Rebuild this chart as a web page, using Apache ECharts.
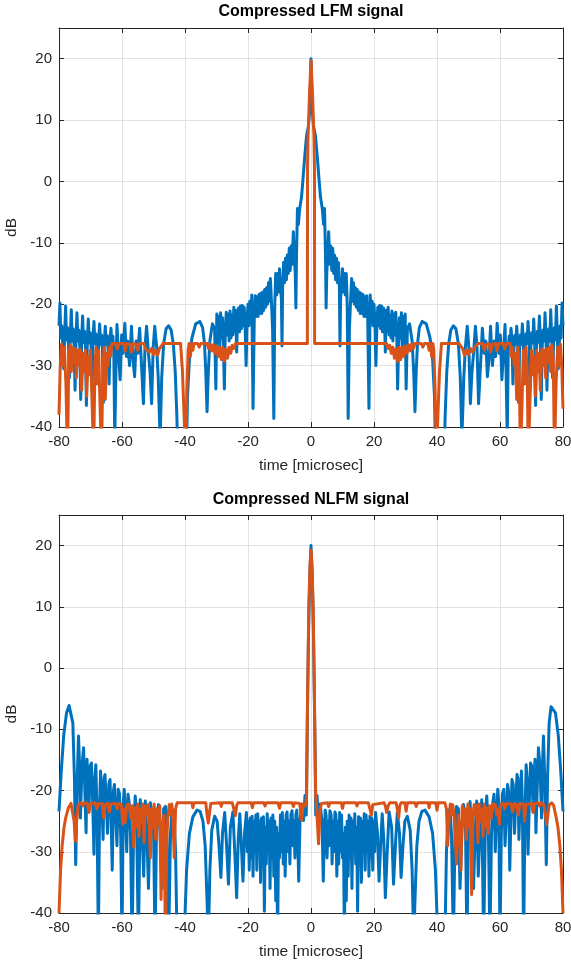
<!DOCTYPE html>
<html><head><meta charset="utf-8">
<script src="https://cdn.jsdelivr.net/npm/echarts@6/dist/echarts.min.js"></script>
<style>html,body{margin:0;padding:0;background:#fff}#c{width:571px;height:965px}</style>
</head><body><div id="c"></div>
<script>
const titles = ['Compressed LFM signal', 'Compressed NLFM signal'];
const xName = 'time [microsec]';
const yName = 'dB';
const xRange = [-80, 80, 20];
const yRange = [-40, 25, 10];

// Top chart: blue trace (time µs, dB)
const lfmBlue = [
[-80,-23.5],[-79.7,-19.8],[-79.4,-25.5],[-79.1,-23.5],[-78.8,-26.5],[-78.5,-30.5],[-78.2,-25],
[-77.9,-20.3],[-77.6,-25.8],[-77.3,-23.8],[-77.0,-26.5],[-76.7,-32],[-76.4,-25.2],
[-76.1,-20.9],[-75.8,-26],[-75.5,-24],[-75.2,-26.8],[-74.9,-34],[-74.6,-25.4],
[-74.3,-21.4],[-74.0,-26],[-73.7,-24.2],[-73.4,-27],[-73.1,-35.5],[-72.8,-25.5],
[-72.5,-21.9],[-72.2,-26.2],[-71.9,-24.4],[-71.6,-27],[-71.3,-36.5],[-71.0,-25.6],
[-70.7,-22.4],[-70.4,-26.3],[-70.1,-24.6],[-69.8,-27],[-69.5,-34],[-69.2,-25.7],
[-68.9,-22.8],[-68.6,-26.4],[-68.3,-24.8],[-68.0,-27],[-67.7,-32],[-67.4,-25.8],
[-67.1,-23.2],[-66.8,-26.5],[-66.5,-25],[-66.2,-27.5],[-65.9,-36],[-65.6,-25.8],
[-65.3,-23.6],[-65.0,-26.5],[-64.7,-25.1],[-64.4,-27.5],[-64.1,-33],[-63.8,-25.9],
[-63.5,-23.9],[-63.2,-26.5],[-62.9,-25.2],[-62.6,-28],[-62.3,-42],
[-61.9,-30],[-61.6,-23.3],[-61.1,-28],[-60.6,-32.3],[-60.1,-25],[-59.7,-28],[-59.1,-23.1],[-58.6,-28.5],[-58.2,-26],[-57.6,-30],[-57.0,-23.6],[-56.5,-29],[-56.0,-31.8],[-55.5,-26],[-55.0,-28],[-54.4,-23.9],[-53.8,-30],[-53.2,-36.2],[-52.7,-27],[-52.2,-23.6],[-51.6,-28],[-51.1,-31],[-50.6,-36.2],[-50.1,-27],[-49.6,-23.6],[-49.0,-27],[-48.5,-32],[-47.9,-42],
[-47.4,-32],[-46.8,-26.5],[-46.0,-24],[-45.2,-23.5],[-44.4,-24.2],[-43.7,-26.5],[-43.1,-31],[-42.6,-38],[-42.2,-46],[-39.6,-46],[-39.2,-35],[-38.6,-29],[-37.8,-25.5],[-36.6,-23.2],[-35.3,-22.8],[-34.4,-23.8],[-33.8,-26.5],[-33.4,-31],[-33.0,-37.5],[-32.6,-31],[-32.1,-26],[-31.3,-23.2],[-30.6,-24],[-30.2,-33.8],
[-29.9,-21.6],[-29.6,-26],[-29.3,-22],[-29.0,-27],[-28.7,-21.4],[-28.4,-25.5],[-28.1,-22.2],[-27.8,-27],[-27.5,-33.8],[-27.2,-24],[-26.9,-21.3],[-26.6,-25],[-26.3,-21.6],[-26.0,-26],[-25.7,-21.1],[-25.4,-25.5],[-25.1,-21.8],[-24.8,-25],[-24.5,-20.5],[-24.2,-24.5],[-23.9,-21],[-23.6,-27.8],[-23.3,-22],[-23.0,-20.6],[-22.7,-24.5],[-22.4,-20.3],[-22.1,-24],[-21.8,-20.2],[-21.5,-23.5],[-21.2,-20.5],[-20.9,-24],[-20.6,-30],[-20.3,-23],[-20.0,-20],[-19.7,-23.5],[-19.4,-19.5],[-19.1,-22.5],[-18.8,-18.5],[-18.4,-37],[-18.0,-22],[-17.7,-18.6],[-17.4,-22],[-17.1,-18.8],[-16.8,-22],[-16.5,-18.4],[-16.2,-21.5],[-15.9,-18.2],[-15.6,-21.5],[-15.3,-18.0],[-15.0,-21],[-14.7,-17.6],[-14.4,-20.5],[-14.1,-17.3],[-13.8,-20],[-13.5,-16.5],[-13.2,-19.5],[-12.9,-15.8],[-12.6,-19],[-12.2,-24],[-11.8,-38.6],[-11.5,-20],[-11.2,-15],[-10.9,-18.5],[-10.6,-15],[-10.3,-18],[-10.0,-14.2],[-9.7,-17.5],[-9.4,-19],[-9.2,-26.8],[-9.0,-17],[-8.7,-13.2],[-8.4,-16.5],[-8.1,-12.5],[-7.8,-16],[-7.5,-12],[-7.2,-15],[-6.9,-10.9],[-6.6,-14.5],[-6.3,-10.5],[-6.0,-13.5],[-5.6,-8.2],[-5.3,-12],[-5.0,-15],[-4.8,-20.6],[-4.6,-12],[-4.3,-4.4],[-4.0,-7],[-3.6,-4.5],[-3.0,-2.5],[-2.6,0],[-2.0,4],[-1.4,7.5],[-0.8,9],[-0.35,12],[0,20],
[0.35,12],[0.8,9],[1.4,7.5],[2.0,4],[2.6,0],[3.0,-2.5],[3.6,-4.5],[4.0,-7],[4.3,-4.4],[4.6,-12],[4.8,-20.6],[5.0,-15],[5.3,-12],[5.6,-8.2],[6.0,-13.5],[6.3,-10.5],[6.6,-14.5],[6.9,-10.9],[7.2,-15],[7.5,-12],[7.8,-16],[8.1,-12.5],[8.4,-16.5],[8.7,-13.2],[9.0,-17],[9.2,-26.8],[9.4,-19],[9.7,-17.5],[10.0,-14.2],[10.3,-18],[10.6,-15],[10.9,-18.5],[11.2,-15],[11.5,-20],[11.8,-38.6],[12.2,-24],[12.6,-19],[12.9,-15.8],[13.2,-19.5],[13.5,-16.5],[13.8,-20],[14.1,-17.3],[14.4,-20.5],[14.7,-17.6],[15.0,-21],[15.3,-18.0],[15.6,-21.5],[15.9,-18.2],[16.2,-21.5],[16.5,-18.4],[16.8,-22],[17.1,-18.8],[17.4,-22],[17.7,-18.6],[18.0,-22],[18.4,-37],[18.8,-18.5],[19.1,-22.5],[19.4,-19.5],[19.7,-23.5],[20.0,-20],[20.3,-23],[20.6,-30],[20.9,-24],[21.2,-20.5],[21.5,-23.5],[21.8,-20.2],[22.1,-24],[22.4,-20.3],[22.7,-24.5],[23.0,-20.6],[23.3,-22],[23.6,-27.8],[23.9,-21],[24.2,-24.5],[24.5,-20.5],[24.8,-25],[25.1,-21.8],[25.4,-25.5],[25.7,-21.1],[26.0,-26],[26.3,-21.6],[26.6,-25],[26.9,-21.3],[27.2,-24],[27.5,-33.8],[27.8,-27],[28.1,-22.2],[28.4,-25.5],[28.7,-21.4],[29.0,-27],[29.3,-22],[29.6,-26],[29.9,-21.6],
[30.2,-33.8],[30.6,-24],[31.3,-23.2],[32.1,-26],[32.6,-31],[33.0,-37.5],[33.4,-31],[33.8,-26.5],[34.4,-23.8],[35.3,-22.8],[36.6,-23.2],[37.8,-25.5],[38.6,-29],[39.2,-35],[39.6,-46],[42.2,-46],[42.6,-38],[43.1,-31],[43.7,-26.5],[44.4,-24.2],[45.2,-23.5],[46.0,-24],[46.8,-26.5],[47.4,-32],
[47.9,-42],[48.5,-32],[49.0,-27],[49.6,-23.6],[50.1,-27],[50.6,-36.2],[51.1,-31],[51.6,-28],[52.2,-23.6],[52.7,-27],[53.2,-36.2],[53.8,-30],[54.4,-23.9],[55.0,-28],[55.5,-26],[56.0,-31.8],[56.5,-29],[57.0,-23.6],[57.6,-30],[58.2,-26],[58.6,-28.5],[59.1,-23.1],[59.7,-28],[60.1,-25],[60.6,-32.3],[61.1,-28],[61.6,-23.3],[61.9,-30],
[62.3,-42],[62.6,-28],[62.9,-25.2],[63.2,-26.5],[63.5,-23.9],
[63.8,-25.9],[64.1,-33],[64.4,-27.5],[64.7,-25.1],[65.0,-26.5],[65.3,-23.6],
[65.6,-25.8],[65.9,-36],[66.2,-27.5],[66.5,-25],[66.8,-26.5],[67.1,-23.2],
[67.4,-25.8],[67.7,-32],[68.0,-27],[68.3,-24.8],[68.6,-26.4],[68.9,-22.8],
[69.2,-25.7],[69.5,-34],[69.8,-27],[70.1,-24.6],[70.4,-26.3],[70.7,-22.4],
[71.0,-25.6],[71.3,-36.5],[71.6,-27],[71.9,-24.4],[72.2,-26.2],[72.5,-21.9],
[72.8,-25.5],[73.1,-35.5],[73.4,-27],[73.7,-24.2],[74.0,-26],[74.3,-21.4],
[74.6,-25.4],[74.9,-34],[75.2,-26.8],[75.5,-24],[75.8,-26],[76.1,-20.9],
[76.4,-25.2],[76.7,-32],[77.0,-26.5],[77.3,-23.8],[77.6,-25.8],[77.9,-20.3],
[78.2,-25],[78.5,-30.5],[78.8,-26.5],[79.1,-23.5],[79.4,-25.5],[79.7,-19.8],[80,-23.5]
];

// Top chart: orange trace
const lfmOrange = [
[-80,-38],[-79.6,-30],[-79.2,-26.5],[-78.8,-30],[-78.3,-27],[-77.8,-33],[-77.3,-45],[-76.9,-29],[-76.5,-26.6],[-76.1,-31],[-75.7,-27],[-75.3,-29.5],[-74.9,-27.2],[-74.5,-32],[-74.1,-27.5],[-73.7,-30],[-73.3,-27.3],[-72.8,-34],[-72.4,-28],[-72.0,-31],[-71.6,-27.5],[-71.2,-35],[-70.8,-28.5],[-70.4,-31.5],[-70.0,-27.5],[-69.5,-36],[-69.0,-45],[-68.6,-30],[-68.2,-27],[-67.8,-33],[-67.4,-27.5],[-67.0,-36],[-66.5,-45],[-66.1,-31],[-65.7,-27],[-65.3,-35.5],[-64.9,-28],[-64.5,-30],[-64.0,-27],[-63.6,-28.5],[-63.2,-26.4],
[-62.0,-26.4],[-61.5,-27.3],[-61.0,-26.4],[-59.5,-26.4],[-59.0,-27.6],[-58.6,-26.4],[-57.5,-26.5],[-57.0,-27.8],[-56.5,-26.4],[-55.5,-26.6],[-55.0,-27.5],[-54.5,-26.4],[-53.0,-26.4],[-52.5,-27.3],[-52.0,-27.0],[-51.3,-27.8],[-50.6,-27.2],[-50.0,-28.2],[-49.3,-27.5],[-48.7,-28.3],[-48.1,-27.2],[-47.5,-26.8],[-47.0,-26.4],[-41.4,-26.4],[-40.8,-31],[-40.3,-38],[-39.8,-45],[-39.4,-34],[-39.0,-27.5],[-38.7,-26.4],[-38.3,-28.5],[-37.9,-26.4],[-37.5,-27.5],[-37.1,-26.4],[-36.0,-26.4],[-35.5,-27],[-35.0,-26.4],[-33.0,-26.4],
[-32.5,-27.2],[-32.0,-26.5],[-31.5,-27.6],[-31.0,-26.6],[-30.5,-28],[-30.0,-26.8],[-29.5,-28.5],[-29.0,-27],[-28.5,-29],[-28.0,-27],[-27.5,-29.3],[-27.0,-27.3],[-26.5,-28.8],[-26.0,-27],[-25.5,-28],[-25.0,-26.7],[-24.5,-27.2],[-24.0,-26.4],[-1.15,-26.4],[-1.1,2],[-0.95,7],[-0.5,14],[0,19.7],
[0.5,14],[0.95,7],[1.1,2],[1.15,-26.4],[24.0,-26.4],[24.5,-27.2],[25.0,-26.7],[25.5,-28],[26.0,-27],[26.5,-28.8],[27.0,-27.3],[27.5,-29.3],[28.0,-27],[28.5,-29],[29.0,-27],[29.5,-28.5],[30.0,-26.8],[30.5,-28],[31.0,-26.6],[31.5,-27.6],[32.0,-26.5],[32.5,-27.2],
[33.0,-26.4],[35.0,-26.4],[35.5,-27],[36.0,-26.4],[37.1,-26.4],[37.5,-27.5],[37.9,-26.4],[38.3,-28.5],[38.7,-26.4],[39.0,-27.5],[39.4,-34],[39.8,-45],[40.3,-38],[40.8,-31],[41.4,-26.4],[47.0,-26.4],[47.5,-26.8],[48.1,-27.2],[48.7,-28.3],[49.3,-27.5],[50.0,-28.2],[50.6,-27.2],[51.3,-27.8],[52.0,-27.0],[52.5,-27.3],[53.0,-26.4],[54.5,-26.4],[55.0,-27.5],[55.5,-26.6],[56.5,-26.4],[57.0,-27.8],[57.5,-26.5],[58.6,-26.4],[59.0,-27.6],[59.5,-26.4],[61.0,-26.4],[61.5,-27.3],[62.0,-26.4],
[63.2,-26.4],[63.6,-28.5],[64.0,-27],[64.5,-30],[64.9,-28],[65.3,-35.5],[65.7,-27],[66.1,-31],[66.5,-45],[67.0,-36],[67.4,-27.5],[67.8,-33],[68.2,-27],[68.6,-30],[69.0,-45],[69.5,-36],[70.0,-27.5],[70.4,-31.5],[70.8,-28.5],[71.2,-35],[71.6,-27.5],[72.0,-31],[72.4,-28],[72.8,-34],[73.3,-27.3],[73.7,-30],[74.1,-27.5],[74.5,-32],[74.9,-27.2],[75.3,-29.5],[75.7,-27],[76.1,-31],[76.5,-26.6],[76.9,-29],[77.3,-45],[77.8,-33],[78.3,-27],[78.8,-30],[79.2,-26.5],[79.6,-30],[80,-37]
];

// Bottom chart: blue trace
const nlfmBlue = [
[-80,-23.4],[-79.3,-17],[-78.5,-11],[-77.6,-7.3],[-76.8,-6.1],[-76.2,-6.3],[-75.6,-9],[-75.1,-18],[-74.7,-32.1],[-74.2,-18],[-73.8,-11.1],[-73.4,-17],[-73.2,-24.5],[-72.7,-16],[-72.2,-13],[-71.8,-20],[-71.4,-26.9],[-71.1,-14.9],[-70.8,-19],[-70.5,-23.4],[-70.1,-16],[-69.7,-15.5],[-69.3,-22],[-68.9,-30.4],[-68.6,-18],[-68.3,-15.8],[-67.9,-25],[-67.5,-45],[-67.1,-22],[-66.8,-16.8],[-66.4,-22],[-66.0,-28],[-65.7,-18],[-65.4,-17.4],[-65.0,-22],[-64.6,-27],[-64.2,-19],[-63.8,-18.2],[-63.4,-26],[-63.1,-33],[-62.7,-20],[-62.4,-19],[-62.0,-24],[-61.6,-29],[-61.2,-19.8],[-60.8,-20.5],[-60.4,-27.5],[-60.0,-45],[-59.6,-22],[-59.3,-19.8],[-58.9,-24],[-58.5,-30],[-58.1,-20.6],[-57.7,-22],[-57.3,-27],[-56.8,-45],[-56.3,-26],[-55.8,-20.9],[-55.4,-24],[-54.8,-45],[-54.2,-21.5],[-53.7,-26],[-53.1,-34],[-52.6,-21.7],[-52.1,-27],[-51.6,-36],[-51.0,-22],[-50.5,-21.8],[-50.0,-26],[-49.5,-45],[-49.0,-24],[-48.4,-22.3],[-47.9,-27],[-47.3,-36],[-46.8,-23],[-46.2,-22.6],[-45.7,-28],[-45.2,-45],[-44.6,-27],[-44.1,-23],[-43.5,-24],[-43.0,-30],[-42.5,-45],
[-40.3,-45],[-39.5,-33],[-38.6,-27],[-37.5,-24.3],[-36.2,-23.2],[-35.2,-23.4],[-34.3,-25],[-33.6,-29],[-33.0,-38],[-32.6,-45],[-32.1,-33],[-31.5,-26.5],[-30.6,-24.2],[-29.8,-25],[-29.2,-29],[-28.6,-34.2],[-28.1,-27],[-27.4,-23.6],[-26.9,-28],[-26.2,-35.3],[-25.6,-26],[-24.8,-23.5],[-24.2,-30],[-23.6,-37.5],[-23.1,-28],[-22.6,-23.8],[-22.1,-29],[-21.6,-34.8],[-21.1,-27],
[-20.5,-23.6],[-20.2,-30],[-19.9,-25],[-19.6,-33],[-19.3,-24.5],[-19.0,-31],[-18.7,-24.2],[-18.4,-34],[-18.1,-25],[-17.8,-30],[-17.5,-24],[-17.2,-33],[-16.9,-23.8],[-16.6,-29],[-16.3,-25],[-16.0,-35],[-15.7,-24.5],[-15.4,-31],[-15.1,-24.3],[-14.8,-39.7],[-14.5,-26],[-14.2,-32],[-13.9,-23.8],[-13.6,-30],[-13.3,-25],[-13.0,-36],[-12.7,-24.5],[-12.4,-31],[-12.1,-24],[-11.8,-34],[-11.5,-25],[-11.2,-38],[-10.9,-26],[-10.6,-45],[-10.3,-27],[-10.0,-31],[-9.7,-24],[-9.4,-30],[-9.1,-23.6],[-8.8,-32],[-8.5,-25],[-8.2,-34],[-7.9,-24],[-7.6,-23.5],[-7.3,-30],[-7.0,-25],[-6.7,-32],[-6.4,-24],[-6.0,-23.3],[-5.7,-29],[-5.4,-25],[-5.1,-31],[-4.8,-24],[-4.5,-23.2],[-4.2,-28],[-3.9,-34.8],[-3.5,-25],[-2.9,-22.2],[-2.4,-24.9],[-1.9,-20.8],[-1.5,-24],[-1.2,-10],[-0.8,5],[-0.4,15],[0,20],
[0.4,15],[0.8,5],[1.2,-10],[1.5,-24],[1.9,-20.8],[2.4,-24.9],[2.9,-22.2],[3.5,-25],[3.9,-34.8],[4.2,-28],[4.5,-23.2],[4.8,-24],[5.1,-31],[5.4,-25],[5.7,-29],[6.0,-23.3],[6.4,-24],[6.7,-32],[7.0,-25],[7.3,-30],[7.6,-23.5],[7.9,-24],[8.2,-34],[8.5,-25],[8.8,-32],[9.1,-23.6],[9.4,-30],[9.7,-24],[10.0,-31],[10.3,-27],[10.6,-45],[10.9,-26],[11.2,-38],[11.5,-25],[11.8,-34],[12.1,-24],[12.4,-31],[12.7,-24.5],[13.0,-36],[13.3,-25],[13.6,-30],[13.9,-23.8],[14.2,-32],[14.5,-26],[14.8,-39.7],[15.1,-24.3],[15.4,-31],[15.7,-24.5],[16.0,-35],[16.3,-25],[16.6,-29],[16.9,-23.8],[17.2,-33],[17.5,-24],[17.8,-30],[18.1,-25],[18.4,-34],[18.7,-24.2],[19.0,-31],[19.3,-24.5],[19.6,-33],[19.9,-25],[20.2,-30],[20.5,-23.6],
[21.1,-27],[21.6,-34.8],[22.1,-29],[22.6,-23.8],[23.1,-28],[23.6,-37.5],[24.2,-30],[24.8,-23.5],[25.6,-26],[26.2,-35.3],[26.9,-28],[27.4,-23.6],[28.1,-27],[28.6,-34.2],[29.2,-29],[29.8,-25],[30.6,-24.2],[31.5,-26.5],[32.1,-33],[32.6,-45],[33.0,-38],[33.6,-29],[34.3,-25],[35.2,-23.4],[36.2,-23.2],[37.5,-24.3],[38.6,-27],[39.5,-33],[40.3,-45],
[42.5,-45],[43.0,-30],[43.5,-24],[44.1,-23],[44.6,-27],[45.2,-45],[45.7,-28],[46.2,-22.6],[46.8,-23],[47.3,-36],[47.9,-27],[48.4,-22.3],[49.0,-24],[49.5,-45],[50.0,-26],[50.5,-21.8],[51.0,-22],[51.6,-36],[52.1,-27],[52.6,-21.7],[53.1,-34],[53.7,-26],[54.2,-21.5],[54.8,-45],[55.4,-24],[55.8,-20.9],[56.3,-26],[56.8,-45],[57.3,-27],[57.7,-22],[58.1,-20.6],[58.5,-30],[58.9,-24],[59.3,-19.8],[59.6,-22],[60.0,-45],[60.4,-27.5],[60.8,-20.5],[61.2,-19.8],[61.6,-29],[62.0,-24],[62.4,-19],[62.7,-20],[63.1,-33],[63.4,-26],[63.8,-18.2],[64.2,-19],[64.6,-27],[65.0,-22],[65.4,-17.4],[65.7,-18],[66.0,-28],[66.4,-22],[66.8,-16.8],[67.1,-22],[67.5,-45],[67.9,-25],[68.3,-15.8],[68.6,-18],[68.9,-30.4],[69.3,-22],[69.7,-15.5],[70.1,-16],[70.5,-23.4],[70.8,-19],[71.1,-14.9],[71.4,-26.9],[71.8,-20],[72.2,-13],[72.7,-16],[73.2,-24.5],[73.4,-17],[73.8,-11.1],[74.2,-18],[74.7,-32.1],[75.1,-18],[75.6,-9],[76.2,-6.3],[76.8,-6.1],[77.6,-7.3],[78.5,-11],[79.3,-17],[80,-23.4]
];

// Bottom chart: orange trace
const nlfmOrange = [
[-80,-40],[-79.5,-33],[-79.0,-29],[-78.4,-26],[-77.8,-24.3],[-77.0,-22.8],[-76.2,-22.1],[-75.6,-22.4],[-75.2,-25],[-74.8,-28.3],[-74.4,-25],[-73.9,-22.3],[-73.0,-22.0],[-72.5,-22.5],[-72.0,-22.0],[-71.0,-22.1],[-70.5,-23.6],[-70.0,-22.1],[-68.5,-22.0],[-68.0,-23],[-67.5,-22.2],[-66.3,-22.1],[-65.8,-24.5],[-65.3,-22.3],[-64.5,-22.1],[-64.0,-23.5],[-63.5,-22.2],[-62.0,-22.1],[-61.5,-23],[-61.0,-22.1],[-60.2,-22.3],[-59.8,-25.5],[-59.4,-23],[-59.0,-25.2],[-58.5,-22.3],[-57.8,-22.2],[-57.2,-24.5],[-56.7,-22.5],[-56.3,-29.3],[-55.9,-22.8],[-55.4,-26],[-55.0,-22.2],[-54.6,-27.5],[-54.2,-23],[-53.8,-25],[-53.4,-22.2],[-53.0,-28.5],[-52.6,-22.5],[-52.1,-24],[-51.6,-22.3],[-51.0,-31],[-50.6,-23],[-50.2,-26],[-49.8,-22.2],[-49.3,-28],[-48.9,-23],[-48.5,-25.5],[-48.0,-22.5],[-47.6,-37.8],[-47.2,-26],[-46.7,-24],[-46.2,-45],[-45.8,-28],[-45.4,-24],[-45.0,-22.3],[-44.6,-24],[-44.2,-22.2],[-43.8,-25],[-43.4,-31],[-43.0,-23],[-42.5,-22.0],[-37.8,-22.0],[-37.5,-22.8],[-37.2,-22.0],[-33.4,-22.0],[-33.0,-24],[-32.6,-25.3],[-32.2,-23.5],[-31.8,-22.1],[-28.8,-22.0],[-28.5,-22.6],[-28.2,-22.0],[-25.0,-22.0],[-24.5,-23],[-24.0,-24.1],[-23.6,-22.5],[-23.2,-22.0],[-19.0,-22.0],[-18.6,-22.8],[-18.2,-22.0],[-15.0,-22.0],[-14.6,-22.5],[-14.2,-22.0],[-10.5,-22.0],[-10.0,-22.9],[-9.6,-22.0],[-6.0,-22.0],[-5.6,-22.6],[-5.2,-22.0],[-3.6,-22.1],[-3.0,-24.8],[-2.5,-22.3],[-1.8,-22.5],[-1.4,-21],[-1.1,-5],[-0.7,10],[-0.3,17],[0,19.3],
[0.3,17],[0.7,10],[1.1,-5],[1.5,-21],[1.9,-24],[2.4,-28.7],[2.9,-23],[3.4,-22.1],[5.2,-22.0],[5.6,-22.6],[6.0,-22.0],[9.6,-22.0],[10.0,-22.9],[10.4,-22.0],[14.2,-22.0],[14.6,-22.5],[15.0,-22.0],[18.2,-22.0],[18.8,-23.2],[19.2,-24],[19.6,-22.3],[20.0,-22.0],[23.2,-22.0],[23.6,-22.5],[24.0,-23.6],[24.5,-22.5],[25.0,-22.0],[27.0,-22.0],[27.4,-23],[27.8,-24.5],[28.2,-22.5],[28.6,-22.0],[29.8,-22.0],[30.2,-23.4],[30.6,-22.0],[33.0,-22.0],[33.4,-22.6],[33.8,-22.0],[37.2,-22.0],[37.5,-22.8],[37.8,-22.0],[39.6,-22.0],[40.0,-23.2],[40.4,-22.0],[42.5,-22.0],[43.0,-23],[43.4,-29],[43.8,-25],[44.2,-22.2],[44.6,-24],[45.0,-22.3],[45.4,-24],[45.8,-28],[46.2,-32],[46.7,-24],[47.2,-26],[47.6,-33],[48.0,-22.5],[48.5,-25.5],[48.9,-23],[49.3,-28],[49.8,-22.2],[50.2,-26],[50.6,-23],[51.0,-37],[51.4,-24],[51.8,-22.3],[52.1,-24],[52.6,-22.5],[53.0,-28.5],[53.4,-22.2],[53.8,-25],[54.2,-23],[54.6,-27.5],[55.0,-22.2],[55.4,-26],[55.9,-22.8],[56.3,-27],[56.7,-22.5],[57.2,-24.5],[57.8,-22.2],[58.5,-22.3],[59.0,-24],[59.4,-23],[59.8,-25.5],[60.2,-22.3],[61.0,-22.1],[61.5,-23],[62.0,-22.1],[63.5,-22.2],[64.0,-23.5],[64.5,-22.1],[65.3,-22.3],[65.8,-24],[66.3,-22.1],[67.5,-22.2],[67.8,-25],[68.2,-22.3],[70.0,-22.1],[70.5,-23.6],[71.0,-22.1],[72.0,-22.0],[72.5,-22.5],[73.0,-22.0],[73.9,-22.3],[74.4,-24],[74.8,-25.5],[75.2,-24],[75.6,-22.4],[76.4,-22.0],[77.0,-22.4],[77.8,-24.3],[78.4,-26],[79.0,-29],[79.5,-33],[80,-40]
];

const BLUE = '#0072BD', ORANGE = '#D95319', INK = '#262626', GRIDC = '#e2e2e2';
const FONT = 'Liberation Sans, Arial, sans-serif';
const grids = [
  {left: 59, right: 8, top: 28, height: 399, outerBoundsMode: 'none', containLabel: false},
  {left: 59, right: 8, top: 515, height: 398, outerBoundsMode: 'none', containLabel: false}
];

function mainX(g) {
  return {gridIndex: g, type: 'value', min: xRange[0], max: xRange[1], interval: xRange[2], position: 'bottom',
    axisLine: {onZero: false, lineStyle: {color: INK, width: 1}},
    axisTick: {inside: true, length: 5, lineStyle: {color: INK}},
    axisLabel: {color: INK, fontSize: 15, fontFamily: FONT, margin: 7},
    splitLine: {show: true, lineStyle: {color: GRIDC, width: 1}},
    name: xName, nameLocation: 'middle', nameGap: 31,
    nameTextStyle: {color: INK, fontSize: 15.5, fontFamily: FONT}};
}
function topX(g) {
  return {gridIndex: g, type: 'value', min: xRange[0], max: xRange[1], interval: xRange[2], position: 'top',
    axisLine: {onZero: false, lineStyle: {color: INK, width: 1}},
    axisTick: {inside: true, length: 5, lineStyle: {color: INK}},
    axisLabel: {show: false}, splitLine: {show: false}};
}
function mainY(g) {
  return {gridIndex: g, type: 'value', min: yRange[0], max: yRange[1], interval: yRange[2], position: 'left',
    axisLine: {onZero: false, show: true, lineStyle: {color: INK, width: 1}},
    axisTick: {show: true, inside: true, length: 5, lineStyle: {color: INK}},
    axisLabel: {color: INK, fontSize: 15, fontFamily: FONT, margin: 7,
      formatter: v => (v > 20 ? '' : String(v))},
    splitLine: {show: true, lineStyle: {color: GRIDC, width: 1}},
    name: yName, nameLocation: 'middle', nameGap: 38,
    nameTextStyle: {color: INK, fontSize: 15.5, fontFamily: FONT}};
}
function rightY(g) {
  return {gridIndex: g, type: 'value', min: yRange[0], max: yRange[1], interval: yRange[2], position: 'right',
    axisLine: {onZero: false, show: true, lineStyle: {color: INK, width: 1}},
    axisTick: {show: true, inside: true, length: 5, lineStyle: {color: INK}},
    axisLabel: {show: false}, splitLine: {show: false}};
}
function lineSeries(data, color, xi, yi, z) {
  return {type: 'line', data: data, xAxisIndex: xi, yAxisIndex: yi, showSymbol: false, symbol: 'none',
    clip: true, z: z, lineStyle: {color: color, width: 3, join: 'round'}, itemStyle: {color: color},
    animation: false};
}

const chart = echarts.init(document.getElementById('c'), null, {renderer: 'canvas'});
chart.setOption({
  backgroundColor: '#fff',
  animation: false,
  grid: grids,
  xAxis: [mainX(0), topX(0), mainX(1), topX(1)],
  yAxis: [mainY(0), rightY(0), mainY(1), rightY(1)],
  series: [
    lineSeries(lfmBlue, BLUE, 0, 0, 2),
    lineSeries(lfmOrange, ORANGE, 0, 0, 3),
    lineSeries(nlfmBlue, BLUE, 2, 2, 2),
    lineSeries(nlfmOrange, ORANGE, 2, 2, 3)
  ],
  graphic: [
    {type: 'text', x: 311, y: 12, style: {text: titles[0], fill: '#000', font: 'bold 16px ' + FONT, textAlign: 'center', textVerticalAlign: 'middle'}},
    {type: 'text', x: 311, y: 500, style: {text: titles[1], fill: '#000', font: 'bold 16px ' + FONT, textAlign: 'center', textVerticalAlign: 'middle'}}
  ]
});
</script>
</body></html>
